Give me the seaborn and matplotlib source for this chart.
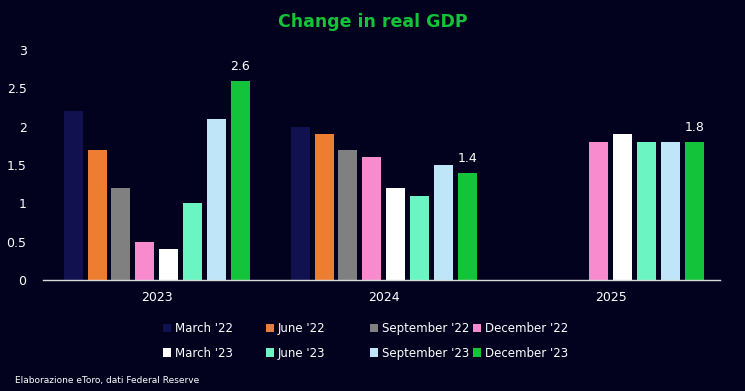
import numpy as np
import pandas as pd
import matplotlib
matplotlib.use("Agg")
import matplotlib.pyplot as plt
import seaborn as sns

years = ["2023", "2024", "2025"]
series = ["March '22", "June '22", "September '22", "December '22",
          "March '23", "June '23", "September '23", "December '23"]
march22 = [2.2, 2.0, np.nan]
june22 = [1.7, 1.9, np.nan]
sept22 = [1.2, 1.7, np.nan]
dec22 = [0.5, 1.6, 1.8]
march23 = [0.4, 1.2, 1.9]
june23 = [1.0, 1.1, 1.8]
sept23 = [2.1, 1.5, 1.8]
dec23 = [2.6, 1.4, 1.8]
colors = ["#111150", "#ed7d31", "#808080", "#f78bcd",
          "#ffffff", "#6bf5c2", "#bfe6f8", "#13c33a"]

bg = "#02021e"
values = [march22, june22, sept22, dec22, march23, june23, sept23, dec23]
rows = []
for s, vals in zip(series, values):
    for y, v in zip(years, vals):
        rows.append({"year": y, "series": s, "value": v})
df = pd.DataFrame(rows)

sns.set_theme(style="white")
plt.rcParams['font.family'] = ['DejaVu Sans']

fig = plt.figure(figsize=(7.45, 3.91), dpi=100, facecolor=bg)
ax = fig.add_axes([0.058, 0.284, 0.908, 0.588])
ax.set_facecolor(bg)

sns.barplot(data=df, x="year", y="value", hue="series", order=years,
            hue_order=series, palette=colors, width=0.84, gap=0.2,
            saturation=1, ax=ax, legend=True, errorbar=None,
            linewidth=0, edgecolor="none")

ax.set_ylim(0, 3)
ax.set_xlim(-0.5, 2.48)
ax.set_yticks([0, 0.5, 1, 1.5, 2, 2.5, 3])
ax.set_yticklabels(["0", "0.5", "1", "1.5", "2", "2.5", "3"])
ax.tick_params(axis="both", colors="white", labelsize=9, length=0)
ax.tick_params(axis="y", pad=12)
ax.tick_params(axis="x", pad=8)
ax.set_xlabel("")
ax.set_ylabel("")
for sp in ["top", "right", "left"]:
    ax.spines[sp].set_visible(False)
ax.spines["bottom"].set_color("#d9d9d9")
ax.spines["bottom"].set_linewidth(1.0)

# data labels for December '23
last = ax.containers[-1]
for rect, v in zip(last, dec23):
    ax.text(rect.get_x() + rect.get_width() / 2, rect.get_height() + 0.1,
            f"{v:.1f}", ha="center", va="bottom", color="white", fontsize=9)

handles, labels = ax.get_legend_handles_labels()
ax.legend_.remove()
for h in handles:
    h.set_edgecolor("none")
    h.set_linewidth(0)

col_x = [163, 266, 370, 473]
for i, x in enumerate(col_x):
    hh = [handles[i], handles[i + 4]]
    ll = [labels[i], labels[i + 4]]
    fig.legend(hh, ll, loc="center left", bbox_to_anchor=(x / 745, 1 - 341 / 391),
               ncol=1, frameon=False, fontsize=8.5, labelcolor="white",
               handlelength=0.7, handleheight=0.7, handletextpad=0.3,
               labelspacing=0.95, borderpad=0, borderaxespad=0)

fig.text(0.5, 0.945, "Change in real GDP", ha="center", va="center",
         color="#13c33a", fontsize=12.5, fontweight="bold")
fig.text(0.02, 0.028, "Elaborazione eToro, dati Federal Reserve", ha="left",
         va="center", color="white", fontsize=6.5)

fig.savefig("out.png", dpi=100, facecolor=bg)
